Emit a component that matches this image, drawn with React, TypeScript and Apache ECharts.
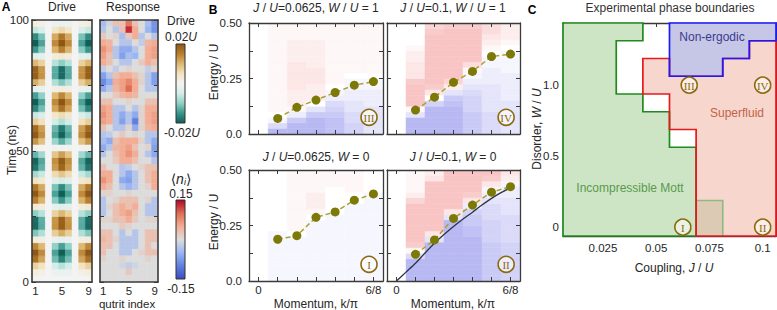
import React, { useEffect, useRef } from "react";
import * as echarts from "echarts";

// ---------------- Panel A: drive & response ----------------
const QUTRITS = [1, 2, 3, 4, 5, 6, 7, 8, 9];
const ROW_NS = 2.5; // time resolution of the rows
const TIME_LABELS = [0, 50, 100];
// drive amplitude per qutrit (relative, +1 = +0.02U)
const DRIVE_SITE_AMPLITUDE = [1, 0.7, 0, -0.7, -1, -0.7, 0, 0.7, 1];
// drive time profile, rows from t=0 upward (2.5 ns each)
const DRIVE_TIME_PROFILE = [
  0.0, 0.1, 0.35, 0.83, 1.0, 0.71, 0.11, -0.54, -0.95, -0.93,
  -0.5, 0.16, 0.75, 1.0, 0.8, 0.24, -0.42, -0.9, -0.97, -0.61,
  0.03, 0.65, 0.98, 0.88, 0.37, -0.29, -0.83, -1.0, -0.71, -0.11,
  0.54, 0.95, 0.93, 0.5, -0.16, -0.75, -1.0, -0.8, -0.3, 0.1,
];
// response <n_i> (x100), rows from top (t=100) downward
const RESPONSE_ROWS = [
  [-4, -1, 3, 3, 9, 3, 0, -4, -8],
  [-3, 0, -3, 3, 13, 5, 0, -5, -8],
  [2, 0, 1, -4, 2, 5, -3, 0, -3],
  [5, 4, 0, -3, -3, 0, -2, 4, 5],
  [7, 5, -3, -6, -6, -3, 0, 5, 6],
  [6, 3, -3, -7, -4, -5, 0, 5, 6],
  [5, 3, 0, -3, -3, 0, 2, 5, 3],
  [-2, 0, -2, 0, 1, 0, 0, -2, 1],
  [-7, -3, 3, 5, 5, 3, 1, -3, -7],
  [-9, -6, 5, 6, 8, 5, 1, -3, -7],
  [-6, -3, 4, 6, 10, 5, 0, -3, -3],
  [0, 0, 2, 4, 5, 4, 0, 0, 0],
  [3, 3, 0, 0, 1, 0, 0, 3, 3],
  [6, 5, -3, -3, 0, -3, 1, 5, 5],
  [7, 5, -3, -6, -3, -6, 1, 5, 6],
  [6, 5, -3, -7, -3, -10, 1, 5, 6],
  [3, 0, -3, -3, 1, -6, 1, 4, 5],
  [-3, -2, 0, 2, 0, 1, 0, -3, -3],
  [-4, -6, 3, 5, 5, 5, 1, -3, -6],
  [-6, -3, 4, 5, 6, 3, 0, 1, -7],
  [-3, 0, 3, 5, 7, 5, 0, -3, -6],
  [0, 0, 2, 5, 5, 3, 0, 0, -3],
  [3, 0, 0, -3, -2, 0, 1, 3, 3],
  [5, 5, 0, -3, -6, -3, 0, 3, 5],
  [7, 5, 0, -6, -7, -3, 0, 3, 5],
  [5, 3, 0, -3, -5, -3, 0, 1, 5],
  [1, 1, 0, 0, 1, 0, 0, 0, 0],
  [-3, 0, 1, 3, 3, 3, 0, 1, -3],
  [-3, 1, 3, 5, 3, 5, 0, -3, -3],
  [-3, 0, 3, 5, 6, 3, 0, -3, -3],
  [1, 1, 3, 3, 5, 2, 0, 1, 1],
  [0, 0, 0, 2, 1, 0, 0, 0, 0],
  [3, 3, 0, -3, 0, -3, 0, 3, 3],
  [4, 3, 1, -3, -3, -3, 0, 3, 3],
  [3, 3, 0, -3, -3, -3, 0, 3, 0],
  [3, 0, 0, -3, -3, 0, 1, 3, 3],
  [1, 0, 0, 1, 0, 0, 0, 1, 0],
  [0, 0, 0, -1, -2, -1, 0, 0, 0],
  [0, 0, 0, 0, 2, 0, 0, 0, 0],
  [0, 0, 0, 0, 0, 0, 0, 0, 0],
];

// ---------------- Panel B: spectra ----------------
const MOMENTUM_K = [1, 2, 3, 4, 5, 6]; // in units of pi/8
const MOMENTUM_TICKS = [0, 1, 2, 3, 4, 5, 6];
const ENERGY_BIN = 0.025;
const ENERGY_LABELS = [0, 0.25, 0.5];
// dot energies (E/U)
const PEAKS_III = [0.07, 0.12, 0.153, 0.187, 0.22, 0.236];
const PEAKS_IV = [0.108, 0.166, 0.233, 0.282, 0.349, 0.36];
const PEAKS_I = [0.188, 0.204, 0.287, 0.311, 0.364, 0.392];
const PEAKS_II = [0.12, 0.185, 0.282, 0.342, 0.4, 0.425];
// spectral weight per momentum column, bins from E=0 upward (step 0.025), -10 blue .. +10 red
const SPEC_III = [
  [-8, -4, -1, 0, 1, 1, 1, 1, 1, 1, 1, 1, 1, 1, 1, 1, 1, 1, 1, 1],
  [-8, -8, -6, -2, 1, 2, 2, 2, 3, 3, 3, 3, 3, 2, 2, 2, 2, 1, 1, 1],
  [-8, -8, -8, -6, -3, 0, 2, 2, 2, 3, 3, 3, 2, 2, 2, 2, 2, 1, 1, 1],
  [-7, -7, -7, -6, -5, -4, -2, -1, 0, 1, 1, 1, 1, 1, 1, 1, 1, 1, 1, 1],
  [-5, -5, -4, -4, -3, -3, -2, -2, -1, -1, 0, 1, 1, 1, 1, 1, 1, 1, 1, 1],
  [-3, -3, -3, -3, -3, -2, -2, -2, -1, -1, 0, 1, 1, 1, 1, 1, 1, 1, 1, 1],
];
const SPEC_IV = [
  [-8, -8, -8, -3, 1, 7, 7, 7, 7, 6, 3, 3, 3, 2, 2, 1, 0, 0, 0, 0],
  [-8, -8, -8, -8, -8, -5, 0, 3, 6, 7, 7, 7, 7, 7, 7, 7, 7, 7, 6, 5],
  [-8, -8, -8, -8, -8, -7, -6, -3, 2, 5, 7, 7, 7, 7, 7, 7, 7, 7, 7, 6],
  [-6, -6, -6, -6, -5, -5, -5, -4, -3, -2, -1, 1, 4, 7, 7, 7, 7, 7, 7, 6],
  [-4, -4, -4, -4, -3, -3, -3, -3, -3, -2, -2, -2, -1, -1, 0, 1, 2, 3, 4, 4],
  [-3, -3, -3, -3, -3, -3, -2, -2, -2, -2, -2, -1, -1, -1, -1, 0, 1, 2, 2, 2],
];
const SPEC_I = [
  [-1, -1, -1, -1, -1, -1, -1, -1, -1, 0, 0, 0, 0, 0, 0, 0, 0, 0, 0, 0],
  [-1, -1, -1, -1, -1, -1, -1, -1, 0, 1, 1, 1, 1, 1, 1, 1, 1, 1, 1, 1],
  [-1, -1, -1, -1, -1, -1, -1, -1, -1, -1, -1, 0, 1, 2, 2, 2, 1, 1, 1, 1],
  [-1, -1, -1, -1, -1, -1, -1, -1, -1, -1, -1, -1, 0, 0, 0, 0, 0, 1, 1, 1],
  [-1, -1, -1, -1, -1, -1, -1, -1, -1, -1, -1, -1, -1, -1, 0, 0, 1, 1, 1, 1],
  [-1, -1, -1, -1, -1, -1, -1, -1, -1, -1, -1, -1, -1, -1, -1, -1, 0, 0, 0, 0],
];
const SPEC_II = [
  [-8, -8, -8, -8, -4, 1, 6, 7, 7, 7, 7, 7, 7, 7, 5, 2, 1, 1, 1, 1],
  [-8, -8, -8, -8, -8, -8, -8, -3, 3, 7, 7, 7, 7, 7, 7, 7, 7, 7, 3, 2],
  [-8, -8, -8, -8, -8, -8, -8, -8, -8, -8, -8, -3, 3, 7, 7, 7, 7, 7, 7, 7],
  [-8, -8, -8, -8, -8, -8, -8, -8, -7, -7, -6, -6, -5, -2, 3, 6, 7, 7, 7, 7],
  [-6, -6, -6, -6, -6, -6, -6, -5, -5, -5, -5, -4, -4, -4, -3, -2, -1, 3, 6, 7],
  [-5, -5, -5, -5, -5, -5, -5, -4, -4, -4, -4, -4, -3, -3, -3, -2, -2, -1, 2, 3],
];
// theory curve in panel II
const CURVE_K = [0, 0.5, 1, 1.5, 2, 2.5, 3, 3.5, 4, 4.5, 5, 5.5, 6];
const CURVE_E = [0, 0.04, 0.08, 0.126, 0.17, 0.209, 0.245, 0.279, 0.31, 0.342, 0.372, 0.398, 0.42];
const B_ROMAN_POS = [5.77, 0.075];

// ---------------- Panel C: phase boundaries ----------------
const J_TICKS = [0.025, 0.05, 0.075, 0.1];
const W_TICKS = [0, 0.5, 1];
const MOTT_REGION = [
  [0.00625, 1.4375], [0.04375, 1.4375], [0.04375, 1.3125], [0.03125, 1.3125],
  [0.03125, 0.9375], [0.04375, 0.9375], [0.04375, 0.8125], [0.05625, 0.8125],
  [0.05625, 0.5625], [0.06875, 0.5625], [0.06875, -0.0625], [0.00625, -0.0625],
];
const SUPERFLUID_REGION = [
  [0.04375, 1.1875], [0.05625, 1.1875], [0.05625, 1.0625], [0.08125, 1.0625],
  [0.08125, 1.1875], [0.09375, 1.1875], [0.09375, 1.3125], [0.10625, 1.3125],
  [0.10625, -0.0625], [0.06875, -0.0625], [0.06875, 0.6875], [0.05625, 0.6875],
  [0.05625, 0.9375], [0.04375, 0.9375],
];
const NONERGODIC_REGION = [
  [0.05625, 1.4375], [0.10625, 1.4375], [0.10625, 1.3125], [0.09375, 1.3125],
  [0.09375, 1.1875], [0.08125, 1.1875], [0.08125, 1.0625], [0.05625, 1.0625],
];
const OVERLAP_REGION = [[0.06875, -0.0625], [0.08125, -0.0625], [0.08125, 0.1875], [0.06875, 0.1875]];
const OVERLAP_EDGE = [[0.06875, 0.1875], [0.08125, 0.1875], [0.08125, -0.0625]];
const C_ROMAN = [
  [0.0625, 0, "I"],
  [0.1, 0, "II"],
  [0.0655, 1, "III"],
  [0.1, 1, "IV"],
];

// ---------------- styling ----------------
const FONT = "'Liberation Sans', Arial, Helvetica, sans-serif";
const TXT = "#262626";
const FRAME = "#3a3a3a";
const ROMAN = "#8a6a0c";
const OLIVE = "#7d7906";
const OLIVE_LINE = "#a8a22a";
const DRIVE_COLORS = ["#0f5f57", "#3a968c", "#8fd0c6", "#d4ede8", "#f3f3f3", "#f3e3bf", "#dcb872", "#b97f2e", "#8e5714"];
const RESP_COLORS = ["#3b4cc0", "#5f7fe0", "#9ab6f2", "#dcdcdc", "#f2ad94", "#df6d52", "#b40426"];
const SPEC_COLORS = ["#a6a6f0", "#ffffff", "#f5aaaa"];

const GRIDS = [
  { left: 32, top: 20, width: 60, height: 262 },
  { left: 100, top: 20, width: 58, height: 262 },
  { left: 249, top: 23, width: 134, height: 111 },
  { left: 387, top: 23, width: 133, height: 111 },
  { left: 249, top: 170, width: 134, height: 111 },
  { left: 387, top: 170, width: 133, height: 111 },
  { left: 563, top: 23, width: 213, height: 213 },
];

type AxCfg = {
  min: number; max: number; interval?: number; ticks?: boolean; tickValues?: number[];
  labelValues?: number[]; formatter?: any; margin?: number; lw: number; z: number;
};

function axis(g: number, position: string, c: AxCfg, showLabels: boolean) {
  const a: any = {
    gridIndex: g, type: "value", position, min: c.min, max: c.max, z: c.z,
    axisLine: { show: true, onZero: false, lineStyle: { color: FRAME, width: c.lw } },
    axisTick: { show: c.ticks !== false, inside: true, length: 4, lineStyle: { color: FRAME, width: 1 } },
    axisLabel: { show: showLabels, margin: c.margin ?? 4, color: TXT, fontSize: 11.5, fontFamily: FONT, showMinLabel: true, showMaxLabel: true },
    splitLine: { show: false },
  };
  if (c.interval !== undefined) a.interval = c.interval;
  if (c.tickValues) a.axisTick.customValues = c.tickValues;
  if (c.labelValues) a.axisLabel.customValues = c.labelValues;
  if (c.formatter) a.axisLabel.formatter = c.formatter;
  return a;
}

function heatSeries(g: number, data: number[][], w: number, h: number) {
  return {
    type: "custom", xAxisIndex: 2 * g, yAxisIndex: 2 * g, data, clip: true, z: 1,
    encode: { x: 0, y: 1 },
    renderItem: (_p: any, api: any) => {
      const x = api.value(0), y = api.value(1);
      const a = api.coord([x - w / 2, y + h]);
      const b = api.coord([x + w / 2, y]);
      const color = api.visual("color");
      return { type: "rect", shape: { x: a[0], y: a[1], width: b[0] - a[0], height: b[1] - a[1] }, style: { fill: color, stroke: color, lineWidth: 0.5 } };
    },
  };
}

function polySeries(g: number, pts: number[][], fill: string, stroke: string, lw: number, z: number, open = false) {
  return {
    type: "custom", xAxisIndex: 2 * g, yAxisIndex: 2 * g, data: [pts[0]], clip: false, z, silent: true,
    renderItem: (_p: any, api: any) => ({
      type: open ? "polyline" : "polygon",
      shape: { points: pts.map((p) => api.coord(p)) },
      style: { fill: open ? "none" : fill, stroke, lineWidth: lw, lineJoin: "miter" },
    }),
  };
}

function romanSeries(g: number, pts: any[], labels: string[], fill: string) {
  return {
    type: "custom", xAxisIndex: 2 * g, yAxisIndex: 2 * g, data: pts.map((p) => [p[0], p[1]]), clip: false, z: 8, silent: true,
    renderItem: (p: any, api: any) => {
      const c = api.coord([api.value(0), api.value(1)]);
      return {
        type: "group",
        children: [
          { type: "circle", shape: { cx: c[0], cy: c[1], r: 8 }, style: { fill, stroke: ROMAN, lineWidth: 1.6 } },
          { type: "text", style: { x: c[0], y: c[1] + 0.5, text: labels[p.dataIndex], align: "center", verticalAlign: "middle", fill: ROMAN, font: "11px 'Liberation Serif', serif" } },
        ],
      };
    },
  };
}

function txt(x: number, y: number, text: string, extra: any = {}, rot = 0): any {
  const { rich, ...rest } = extra;
  return {
    type: "text", x, y, rotation: rot, z: 20,
    style: { text, fill: TXT, fontSize: 12, fontFamily: FONT, align: "center", verticalAlign: "middle", rich, ...rest },
  };
}

const IT = { fontStyle: "italic", fill: TXT, fontSize: 12, fontFamily: FONT };

function buildOption() {
  const xAxis: any[] = [];
  const yAxis: any[] = [];
  const addGrid = (g: number, xc: AxCfg, yc: AxCfg, showX: boolean, showY: boolean, topTicks: boolean, rightTicks: boolean) => {
    xAxis.push(axis(g, "bottom", xc, showX));
    xAxis.push(axis(g, "top", { ...xc, ticks: topTicks && xc.ticks !== false }, false));
    yAxis.push(axis(g, "left", yc, showY));
    yAxis.push(axis(g, "right", { ...yc, ticks: rightTicks && yc.ticks !== false }, false));
  };
  const aX: AxCfg = { min: 0.5, max: 9.5, ticks: false, labelValues: [1, 5, 9], margin: 3, lw: 1.6, z: 10 };
  const aY: AxCfg = { min: 0, max: 100, interval: 25, labelValues: TIME_LABELS, margin: 3, lw: 1.6, z: 10 };
  addGrid(0, aX, aY, true, true, false, true);
  addGrid(1, aX, aY, true, false, false, true);
  const bX: AxCfg = {
    min: -0.5, max: 6.5, tickValues: MOMENTUM_TICKS, labelValues: [0, 6], margin: 3, lw: 1.3, z: 10,
    formatter: (v: number) => (v === 0 ? "0" : v + "/8"),
  };
  const bY: AxCfg = {
    min: 0, max: 0.5, interval: 0.125, labelValues: ENERGY_LABELS, margin: 7, lw: 1.3, z: 10,
    formatter: (v: number) => (v === 0 ? "0.0" : v === 0.5 ? "0.50" : String(v)),
  };
  addGrid(2, bX, bY, false, true, true, true);
  addGrid(3, bX, bY, false, false, true, true);
  addGrid(4, bX, bY, true, true, true, true);
  addGrid(5, bX, bY, true, false, true, true);
  const cX: AxCfg = { min: 0.00625, max: 0.10625, tickValues: J_TICKS, labelValues: J_TICKS, margin: 6, lw: 1.3, z: 0 };
  const cY: AxCfg = {
    min: -0.0625, max: 1.4375, tickValues: W_TICKS, labelValues: W_TICKS, margin: 4, lw: 1.3, z: 0,
    formatter: (v: number) => (v === 1 ? "1.0" : String(v)),
  };
  addGrid(6, cX, cY, true, true, true, true);

  const driveCells: number[][] = [];
  DRIVE_TIME_PROFILE.forEach((f, r) => {
    QUTRITS.forEach((q, s) => driveCells.push([q, r * ROW_NS, DRIVE_SITE_AMPLITUDE[s] * f]));
  });
  const respCells: number[][] = [];
  RESPONSE_ROWS.forEach((row, r) => {
    row.forEach((v, s) => respCells.push([QUTRITS[s], 100 - (r + 1) * ROW_NS, v]));
  });
  const specCells = (spec: number[][]) => {
    const out: number[][] = [];
    spec.forEach((col, c) => col.forEach((v, b) => out.push([MOMENTUM_K[c], b * ENERGY_BIN, v])));
    return out;
  };
  const peaks = (g: number, e: number[]) => ({
    type: "line", xAxisIndex: 2 * g, yAxisIndex: 2 * g, z: 6,
    data: MOMENTUM_K.map((k, i) => [k, e[i]]),
    symbol: "circle", symbolSize: 9, showSymbol: true,
    itemStyle: { color: OLIVE },
    lineStyle: { color: OLIVE_LINE, width: 1.5, type: [5, 3] },
  });

  const series: any[] = [
    heatSeries(0, driveCells, 1, ROW_NS),
    heatSeries(1, respCells, 1, ROW_NS),
    heatSeries(2, specCells(SPEC_III), 1, ENERGY_BIN),
    heatSeries(3, specCells(SPEC_IV), 1, ENERGY_BIN),
    heatSeries(4, specCells(SPEC_I), 1, ENERGY_BIN),
    heatSeries(5, specCells(SPEC_II), 1, ENERGY_BIN),
    peaks(2, PEAKS_III),
    peaks(3, PEAKS_IV),
    peaks(4, PEAKS_I),
    peaks(5, PEAKS_II),
    {
      type: "line", xAxisIndex: 10, yAxisIndex: 10, z: 4, smooth: 0.3, symbol: "none",
      data: CURVE_K.map((k, i) => [k, CURVE_E[i]]),
      lineStyle: { color: "#2b3645", width: 1.3 },
    },
    romanSeries(2, [B_ROMAN_POS], ["III"], "rgba(255,255,255,0.6)"),
    romanSeries(3, [B_ROMAN_POS], ["IV"], "rgba(255,255,255,0.6)"),
    romanSeries(4, [B_ROMAN_POS], ["I"], "rgba(255,255,255,0.6)"),
    romanSeries(5, [B_ROMAN_POS], ["II"], "rgba(255,255,255,0.6)"),
    polySeries(6, MOTT_REGION, "#cde5c5", "none", 0, 2),
    polySeries(6, SUPERFLUID_REGION, "#f7d7cd", "none", 0, 2),
    polySeries(6, NONERGODIC_REGION, "#c6c6e6", "none", 0, 2),
    polySeries(6, OVERLAP_REGION, "#dccab5", "none", 0, 3),
    polySeries(6, OVERLAP_EDGE, "none", "#8fb882", 1.6, 4, true),
    polySeries(6, MOTT_REGION, "none", "#1f8a1f", 1.7, 5),
    polySeries(6, SUPERFLUID_REGION, "none", "#e8191c", 1.7, 6),
    polySeries(6, NONERGODIC_REGION, "none", "#1a1aff", 1.7, 7),
    romanSeries(6, C_ROMAN, C_ROMAN.map((r) => r[2] as string), "rgba(255,255,255,0.55)"),
  ];

  const graphic: any[] = [
    txt(6, 7, "A", { fontWeight: "bold", fontSize: 12, fill: "#000" }),
    txt(62, 7, "Drive"),
    txt(133, 7, "Response"),
    txt(12, 150, "Time (ns)", {}, Math.PI / 2),
    txt(127, 304, "qutrit index", { fontSize: 11.5 }),
    txt(181, 21, "Drive"),
    txt(181, 37, "0.02{i|U}", { rich: { i: IT } }),
    txt(182, 133, "-0.02{i|U}", { rich: { i: IT } }),
    txt(181, 179, "{a|⟨}{n|n}{s|i}{a|⟩}", {
      rich: {
        a: { fill: TXT, fontSize: 14, fontFamily: "'DejaVu Sans', sans-serif", lineHeight: 15 },
        n: { ...IT, fontSize: 14, lineHeight: 15 },
        s: { ...IT, fontSize: 9, lineHeight: 15, verticalAlign: "bottom" },
      },
    }),
    txt(181, 194, "0.15"),
    txt(181, 289, "-0.15"),
    {
      type: "rect", z: 20, shape: { x: 176, y: 44, width: 9, height: 79 },
      style: {
        stroke: "#333", lineWidth: 1,
        fill: new echarts.graphic.LinearGradient(0, 0, 0, 1,
          DRIVE_COLORS.slice().reverse().map((c, i, arr) => ({ offset: i / (arr.length - 1), color: c }))),
      },
    },
    {
      type: "rect", z: 20, shape: { x: 176, y: 200, width: 9, height: 79 },
      style: {
        stroke: "#333", lineWidth: 1,
        fill: new echarts.graphic.LinearGradient(0, 0, 0, 1,
          RESP_COLORS.slice().reverse().map((c, i, arr) => ({ offset: i / (arr.length - 1), color: c }))),
      },
    },
    txt(213, 10, "B", { fontWeight: "bold", fontSize: 12, fill: "#000" }),
    txt(316, 8, "{i|J} / {i|U}=0.0625, {i|W} / {i|U} = 1", { rich: { i: IT } }),
    txt(453, 8, "{i|J} / {i|U}=0.1, {i|W} / {i|U} = 1", { rich: { i: IT } }),
    txt(316, 157, "{i|J} / {i|U}=0.0625, {i|W} = 0", { rich: { i: IT } }),
    txt(453, 157, "{i|J} / {i|U}=0.1, {i|W} = 0", { rich: { i: IT } }),
    txt(214, 72, "Energy / U", {}, Math.PI / 2),
    txt(214, 222, "Energy / U", {}, Math.PI / 2),
    txt(316, 304, "Momentum, k/π"),
    txt(453, 304, "Momentum, k/π"),
    txt(532, 10, "C", { fontWeight: "bold", fontSize: 12, fill: "#000" }),
    txt(670, 8, "Experimental phase boundaries", { fill: "#333" }),
    txt(674, 268, "Coupling, {i|J} / {i|U}", { rich: { i: IT } }),
    txt(537, 129, "Disorder, {i|W} / {i|U}", { rich: { i: IT } }, Math.PI / 2),
    txt(712, 37, "Non-ergodic", { fill: "#3a3a8e" }),
    txt(737, 113, "Superfluid", { fill: "#c46248" }),
    txt(630, 188, "Incompressible Mott", { fill: "#5a9a4e" }),
  ];

  return {
    animation: false,
    backgroundColor: "#ffffff",
    textStyle: { fontFamily: FONT },
    grid: GRIDS.map((g) => ({ ...g, containLabel: false })),
    xAxis,
    yAxis,
    visualMap: [
      { type: "continuous", show: false, seriesIndex: 0, dimension: 2, min: -1, max: 1, inRange: { color: DRIVE_COLORS } },
      { type: "continuous", show: false, seriesIndex: 1, dimension: 2, min: -15, max: 15, inRange: { color: RESP_COLORS } },
      { type: "continuous", show: false, seriesIndex: [2, 3, 4, 5], dimension: 2, min: -10, max: 10, inRange: { color: SPEC_COLORS } },
    ],
    series,
    graphic,
  };
}

export default function App() {
  const ref = useRef<HTMLDivElement>(null);
  useEffect(() => {
    if (!ref.current) return;
    const chart = echarts.init(ref.current, undefined, { renderer: "svg" });
    chart.setOption(buildOption() as any);
    return () => chart.dispose();
  }, []);
  return (
    <div
      ref={ref}
      style={{ position: "absolute", left: 0, top: 0, width: 777, height: 310, background: "#fff" }}
    />
  );
}
